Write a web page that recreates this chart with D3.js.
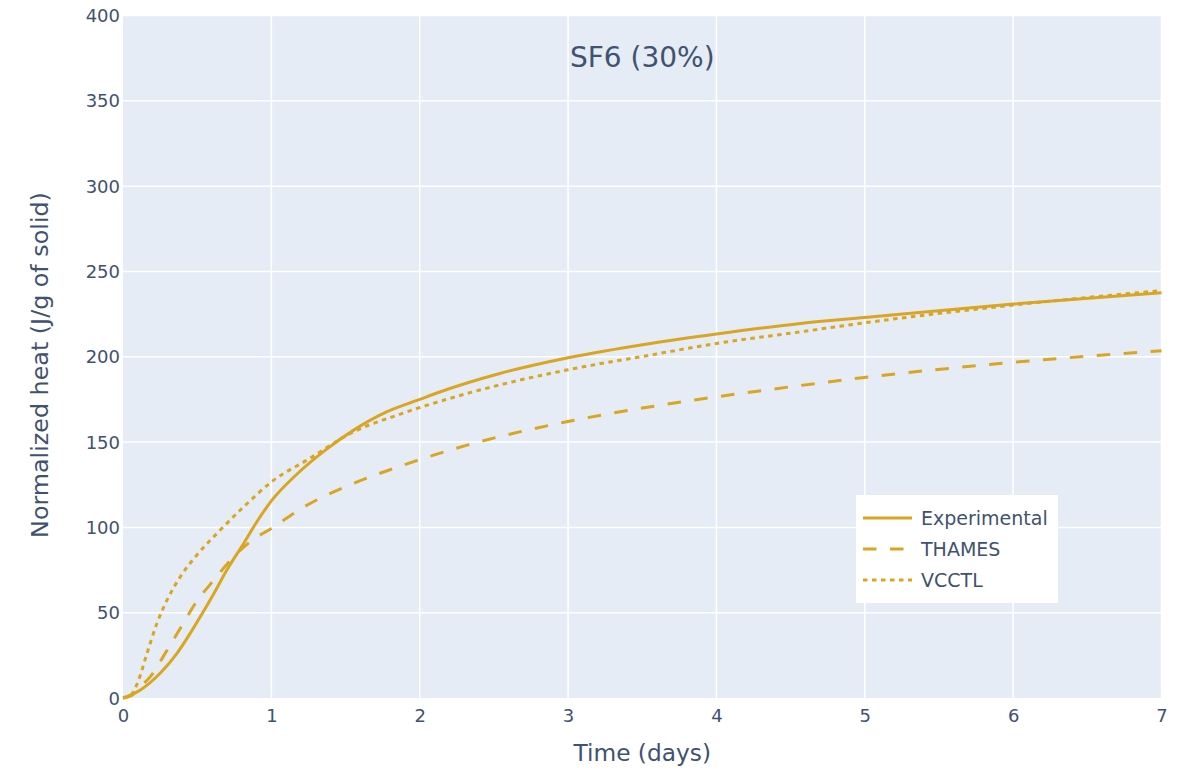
<!DOCTYPE html>
<html>
<head>
<meta charset="utf-8">
<script src="https://cdn.jsdelivr.net/npm/d3@7"></script>
<style>
  html, body { margin: 0; padding: 0; background: #fff; }
  svg { display: block; }
  text { font-family: "DejaVu Sans", Verdana, sans-serif; fill: #3f5270; }
</style>
</head>
<body>
<svg id="chart" width="1184" height="771"></svg>
<script>
// ---- data ----
const expTime = [0, 0.117, 0.25, 0.364, 0.454, 0.52, 0.611, 0.70, 0.813, 0.9, 1.0, 1.17, 1.375, 1.555, 1.78, 2.0, 2.14, 2.54, 3.0, 3.556, 4.0, 4.567, 5.0, 6.0, 7.0];
const expHeat = [0, 4.7, 14.5, 26.2, 38, 47.5, 61, 75, 90.6, 103, 115.5, 131, 146, 157, 167.8, 175, 179.5, 190.2, 199.4, 207.8, 213.3, 219.5, 223, 230.9, 237.5];

const thamesTime = [0, 0.06, 0.117, 0.184, 0.297, 0.386, 0.488, 0.611, 0.746, 0.88, 1.0, 1.22, 1.555, 1.89, 2.32, 2.99, 3.556, 4.0, 4.5, 5.0, 6.0, 7.0];
const thamesHeat = [0, 1.5, 6.6, 12.5, 28, 40.8, 55.5, 69, 82.8, 93, 99.4, 112, 125.8, 136.5, 148.2, 161.9, 170.7, 176.5, 182.4, 187.9, 196.7, 203.5];

const vcctlTime = [0, 0.05, 0.105, 0.162, 0.229, 0.297, 0.386, 0.498, 0.634, 0.813, 1.016, 1.24, 1.555, 1.87, 2.32, 2.99, 3.556, 4.0, 4.567, 5.0, 6.0, 7.0];
const vcctlHeat = [0, 1.5, 10.5, 26.2, 43.8, 57.4, 71, 83.8, 96.5, 112, 127.7, 139.4, 156, 166.4, 178.5, 192.2, 201, 207.8, 214.6, 219.9, 230.3, 238.8];

const seriesNames = ["Experimental", "THAMES", "VCCTL"];
const xTicks = [0, 1, 2, 3, 4, 5, 6, 7];
const yTicks = [0, 50, 100, 150, 200, 250, 300, 350, 400];
const chartTitle = "SF6 (30%)";
const xTitle = "Time (days)";
const yTitle = "Normalized heat (J/g of solid)";

// ---- layout ----
const L = 123, R = 1161.5, T = 15.5, B = 698;
const color = "#DAA520";
const textColor = "#3f5270";
const dashes = [null, "13.5,13.5", "4.5,4.5"];

const svg = d3.select("#chart");
const x = d3.scaleLinear().domain([0, 7]).range([L, R]);
const y = d3.scaleLinear().domain([0, 400]).range([B, T]);

svg.append("rect").attr("x", L).attr("y", T).attr("width", R - L).attr("height", B - T).attr("fill", "#E5ECF6");

// grid
const grid = svg.append("g");
grid.selectAll(".vg").data(xTicks.filter(d => d > 0)).join("line")
  .attr("x1", d => x(d)).attr("x2", d => x(d)).attr("y1", T).attr("y2", B)
  .attr("stroke", "#fff").attr("stroke-width", 1.5);
grid.selectAll(".hg").data(yTicks.filter(d => d > 0)).join("line")
  .attr("x1", L).attr("x2", R).attr("y1", d => y(d)).attr("y2", d => y(d))
  .attr("stroke", "#fff").attr("stroke-width", 1.5);

// axes (labels only, plotly style)
const xAxis = svg.append("g").attr("transform", `translate(0,${B})`)
  .call(d3.axisBottom(x).tickValues(xTicks).tickFormat(d3.format("d")).tickSize(0).tickPadding(0));
xAxis.select(".domain").remove();
xAxis.selectAll("text").attr("y", 24).attr("dy", null)
  .style("font-size", "18px").style("font-family", "DejaVu Sans").attr("fill", textColor);

const yAxis = svg.append("g").attr("transform", `translate(${L},0)`)
  .call(d3.axisLeft(y).tickValues(yTicks).tickFormat(d3.format("d")).tickSize(0).tickPadding(0));
yAxis.select(".domain").remove();
yAxis.selectAll("text").attr("x", -3).attr("dy", "0.34em")
  .style("font-size", "18px").style("font-family", "DejaVu Sans").attr("fill", textColor);

// lines
const series = [
  { name: seriesNames[0], t: expTime, v: expHeat },
  { name: seriesNames[1], t: thamesTime, v: thamesHeat },
  { name: seriesNames[2], t: vcctlTime, v: vcctlHeat }
];
const line = d3.line().x(d => x(d[0])).y(d => y(d[1])).curve(d3.curveMonotoneX);
const lines = svg.append("g");
series.forEach((s, i) => {
  const pts = s.t.map((t, k) => [t, s.v[k]]);
  lines.append("path").datum(pts).attr("d", line)
    .attr("fill", "none").attr("stroke", color).attr("stroke-width", 3)
    .attr("stroke-dasharray", dashes[i]).attr("stroke-linejoin", "round");
});

// titles
svg.append("text").attr("x", (L + R) / 2).attr("y", 67).attr("text-anchor", "middle")
  .style("font-size", "28px").text(chartTitle);
svg.append("text").attr("x", (L + R) / 2).attr("y", 761).attr("text-anchor", "middle")
  .style("font-size", "23.3px").text(xTitle);
svg.append("text").attr("transform", `translate(48,365) rotate(-90)`)
  .attr("text-anchor", "middle").style("font-size", "23.8px").text(yTitle);

// legend
const lg = svg.append("g").attr("transform", "translate(856,495)");
lg.append("rect").attr("width", 202).attr("height", 108).attr("fill", "#fff");
series.forEach((s, i) => {
  const yy = 23 + i * 31;
  lg.append("line").attr("x1", 7).attr("x2", 56).attr("y1", yy).attr("y2", yy)
    .attr("stroke", color).attr("stroke-width", 3).attr("stroke-dasharray", dashes[i]);
  lg.append("text").attr("x", 65).attr("y", yy).attr("dy", "0.36em")
    .style("font-size", "19px").text(s.name);
});
</script>
</body>
</html>
